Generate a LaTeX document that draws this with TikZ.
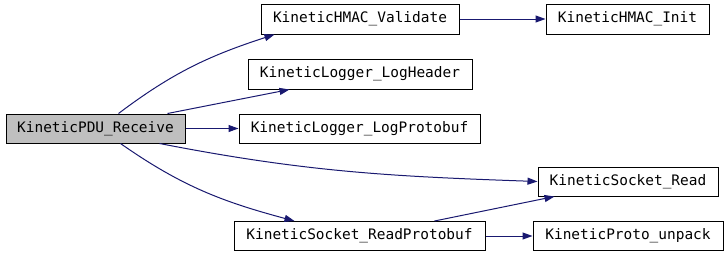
\documentclass[tikz,border=0pt]{standalone}
\usepackage{fontspec}
\newfontfamily\codefont{DejaVu Sans Mono}
\usetikzlibrary{arrows.meta}
\definecolor{edgeblue}{HTML}{191970}
\definecolor{callergray}{HTML}{BFBFBF}
\tikzset{
  fn/.style={draw=black, line width=1pt, fill=white, rectangle, inner sep=0pt,
    minimum height=29pt, font=\codefont\fontsize{14.45}{16}\selectfont},
  call/.style={draw=edgeblue, line width=1pt, -{Triangle[length=10pt,width=7pt]}},
}
\begin{document}
\begin{tikzpicture}[x=1pt,y=1pt]
  \useasboundingbox (0,0) rectangle (728,-257);
  % functions
  \node[fn, fill=callergray, minimum width=179pt] (pdu) at (95.5,-128.5) {KineticPDU\_Receive};
  \node[fn, minimum width=198pt, minimum height=30pt] (val) at (360,-19) {KineticHMAC\_Validate};
  \node[fn, minimum width=163pt, minimum height=30pt] (init) at (627.5,-19) {KineticHMAC\_Init};
  \node[fn, minimum width=224pt, minimum height=30pt] (lh) at (360,-74) {KineticLogger\_LogHeader};
  \node[fn, minimum width=241pt] (lp) at (359.5,-128.5) {KineticLogger\_LogProtobuf};
  \node[fn, minimum width=180pt] (sr) at (628,-181.5) {KineticSocket\_Read};
  \node[fn, minimum width=251pt] (rp) at (359.5,-236) {KineticSocket\_ReadProtobuf};
  \node[fn, minimum width=190pt] (up) at (628,-236) {KineticProto\_unpack};
  % calls
  \draw[call] ([xshift=23pt]pdu.north) to[out=37, in=198] ([xshift=14pt]val.south west);
  \draw[call] ([xshift=72pt]pdu.north) -- ([xshift=42pt]lh.south west);
  \draw[call] (pdu.east) -- (lp.west);
  \draw[call] ([xshift=64pt]pdu.south) to[out=-11, in=178] (sr.west);
  \draw[call] ([xshift=25pt]pdu.south) to[out=-35, in=165] ([xshift=61pt]rp.north west);
  \draw[call] ([xshift=75pt]rp.north) -- ([xshift=17pt]sr.south west);
  \draw[call] (rp.east) -- (up.west);
  \draw[call] (val.east) -- (init.west);
\end{tikzpicture}
\end{document}
